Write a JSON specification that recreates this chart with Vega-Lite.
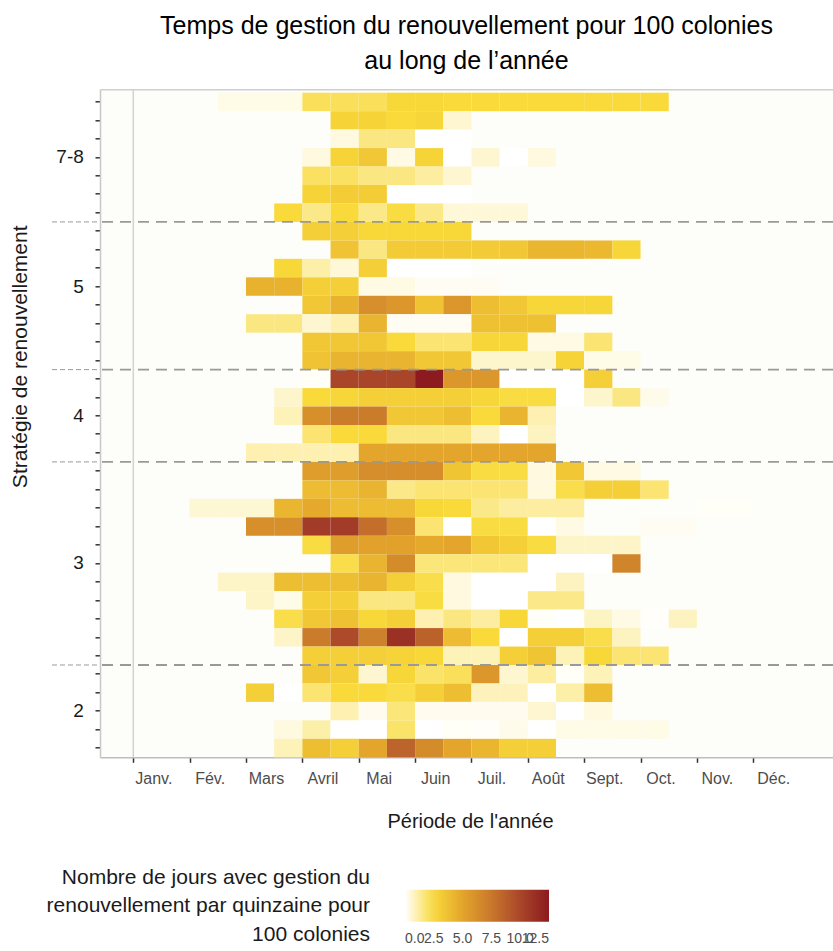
{
  "$schema": "https://vega.github.io/schema/vega-lite/v6.json",
  "width": 733,
  "height": 668,
  "autosize": {"type": "none"},
  "padding": {"left": 100, "top": 89.3, "right": 0, "bottom": 193.7},
  "background": "#FFFFFF",
  "title": {
    "text": ["Temps de gestion du renouvellement pour 100 colonies", "au long de l’année"],
    "orient": "top",
    "anchor": "middle",
    "frame": "group",
    "baseline": "alphabetic",
    "offset": -5,
    "lineHeight": 35,
    "fontSize": 25,
    "fontWeight": "normal",
    "color": "#000000"
  },
  "datasets": {
    "separations": [{"l": 8}, {"l": 16}, {"l": 21}, {"l": 32}],
    "cellules": [
      {"l":1,"q0":3,"q1":4,"v":0.3},{"l":1,"q0":4,"q1":5,"v":0.3},{"l":1,"q0":5,"q1":6,"v":0.3},{"l":1,"q0":6,"q1":7,"v":2.1},{"l":1,"q0":7,"q1":8,"v":2.1},{"l":1,"q0":8,"q1":9,"v":2.1},{"l":1,"q0":9,"q1":10,"v":2.6},{"l":1,"q0":10,"q1":11,"v":2.6},{"l":1,"q0":11,"q1":12,"v":2.5},{"l":1,"q0":12,"q1":13,"v":2.5},{"l":1,"q0":13,"q1":14,"v":2.5},{"l":1,"q0":14,"q1":15,"v":2.5},{"l":1,"q0":15,"q1":16,"v":2.5},{"l":1,"q0":16,"q1":17,"v":2.5},{"l":1,"q0":17,"q1":18,"v":2.5},{"l":1,"q0":18,"q1":19,"v":2.5},
      {"l":2,"q0":7,"q1":8,"v":2.8},{"l":2,"q0":8,"q1":9,"v":2.8},{"l":2,"q0":9,"q1":10,"v":2.5},{"l":2,"q0":10,"q1":11,"v":2.7},{"l":2,"q0":11,"q1":12,"v":0.6},
      {"l":3,"q0":7,"q1":8,"v":0.4},{"l":3,"q0":8,"q1":9,"v":1.6},{"l":3,"q0":9,"q1":10,"v":1.6},{"l":3,"q0":10,"q1":11,"v":0},{"l":3,"q0":11,"q1":12,"v":0},
      {"l":4,"q0":6,"q1":7,"v":0.4},{"l":4,"q0":7,"q1":8,"v":2.8},{"l":4,"q0":8,"q1":9,"v":3.4},{"l":4,"q0":9,"q1":10,"v":0.35},{"l":4,"q0":10,"q1":11,"v":2.8},{"l":4,"q0":11,"q1":12,"v":0},{"l":4,"q0":12,"q1":13,"v":0.6},{"l":4,"q0":13,"q1":14,"v":0},{"l":4,"q0":14,"q1":15,"v":0.4},
      {"l":5,"q0":6,"q1":7,"v":2.0},{"l":5,"q0":7,"q1":8,"v":2.0},{"l":5,"q0":8,"q1":9,"v":1.6},{"l":5,"q0":9,"q1":10,"v":1.6},{"l":5,"q0":10,"q1":11,"v":1.2},{"l":5,"q0":11,"q1":12,"v":0.6},
      {"l":6,"q0":6,"q1":7,"v":2.8},{"l":6,"q0":7,"q1":8,"v":3.1},{"l":6,"q0":8,"q1":9,"v":3.1},{"l":6,"q0":9,"q1":10,"v":0},{"l":6,"q0":10,"q1":11,"v":0},{"l":6,"q0":11,"q1":12,"v":0},
      {"l":7,"q0":5,"q1":6,"v":2.5},{"l":7,"q0":6,"q1":7,"v":1.5},{"l":7,"q0":7,"q1":8,"v":2.5},{"l":7,"q0":8,"q1":9,"v":1.5},{"l":7,"q0":9,"q1":10,"v":2.4},{"l":7,"q0":10,"q1":11,"v":1.5},{"l":7,"q0":11,"q1":12,"v":0.5},{"l":7,"q0":12,"q1":13,"v":0.5},{"l":7,"q0":13,"q1":14,"v":0.5},
      {"l":8,"q0":6,"q1":7,"v":3.0},{"l":8,"q0":7,"q1":8,"v":3.0},{"l":8,"q0":8,"q1":9,"v":2.6},{"l":8,"q0":9,"q1":10,"v":2.6},{"l":8,"q0":10,"q1":11,"v":2.6},{"l":8,"q0":11,"q1":12,"v":2.6},
      {"l":9,"q0":7,"q1":8,"v":3.6},{"l":9,"q0":8,"q1":9,"v":1.6},{"l":9,"q0":9,"q1":10,"v":3.2},{"l":9,"q0":10,"q1":11,"v":3.2},{"l":9,"q0":11,"q1":12,"v":3.2},{"l":9,"q0":12,"q1":13,"v":3.2},{"l":9,"q0":13,"q1":14,"v":3.4},{"l":9,"q0":14,"q1":15,"v":4.2},{"l":9,"q0":15,"q1":16,"v":4.2},{"l":9,"q0":16,"q1":17,"v":4.1},{"l":9,"q0":17,"q1":18,"v":2.7},
      {"l":10,"q0":5,"q1":6,"v":2.6},{"l":10,"q0":6,"q1":7,"v":1.1},{"l":10,"q0":7,"q1":8,"v":0.5},{"l":10,"q0":8,"q1":9,"v":3.0},{"l":10,"q0":9,"q1":10,"v":0},{"l":10,"q0":10,"q1":11,"v":0},{"l":10,"q0":11,"q1":12,"v":0},
      {"l":11,"q0":4,"q1":5,"v":4.4},{"l":11,"q0":5,"q1":6,"v":4.4},{"l":11,"q0":6,"q1":7,"v":3.0},{"l":11,"q0":7,"q1":8,"v":3.0},{"l":11,"q0":8,"q1":9,"v":0.35},{"l":11,"q0":9,"q1":10,"v":0.35},{"l":11,"q0":10,"q1":11,"v":0.15},{"l":11,"q0":11,"q1":12,"v":0.15},{"l":11,"q0":12,"q1":13,"v":0.15},
      {"l":12,"q0":6,"q1":7,"v":3.4},{"l":12,"q0":7,"q1":8,"v":4.4},{"l":12,"q0":8,"q1":9,"v":6.2},{"l":12,"q0":9,"q1":10,"v":5.8},{"l":12,"q0":10,"q1":11,"v":3.6},{"l":12,"q0":11,"q1":12,"v":5.8},{"l":12,"q0":12,"q1":13,"v":3.8},{"l":12,"q0":13,"q1":14,"v":3.4},{"l":12,"q0":14,"q1":15,"v":2.7},{"l":12,"q0":15,"q1":16,"v":2.7},{"l":12,"q0":16,"q1":17,"v":2.7},
      {"l":13,"q0":4,"q1":5,"v":1.6},{"l":13,"q0":5,"q1":6,"v":1.6},{"l":13,"q0":6,"q1":7,"v":0.6},{"l":13,"q0":7,"q1":8,"v":1.0},{"l":13,"q0":8,"q1":9,"v":4.3},{"l":13,"q0":9,"q1":10,"v":0.15},{"l":13,"q0":10,"q1":11,"v":0.15},{"l":13,"q0":11,"q1":12,"v":0.15},{"l":13,"q0":12,"q1":13,"v":3.7},{"l":13,"q0":13,"q1":14,"v":3.7},{"l":13,"q0":14,"q1":15,"v":3.7},
      {"l":14,"q0":6,"q1":7,"v":3.4},{"l":14,"q0":7,"q1":8,"v":3.4},{"l":14,"q0":8,"q1":9,"v":3.4},{"l":14,"q0":9,"q1":10,"v":2.5},{"l":14,"q0":10,"q1":11,"v":1.8},{"l":14,"q0":11,"q1":12,"v":1.8},{"l":14,"q0":12,"q1":13,"v":2.7},{"l":14,"q0":13,"q1":14,"v":2.7},{"l":14,"q0":14,"q1":15,"v":0.35},{"l":14,"q0":15,"q1":16,"v":0.35},{"l":14,"q0":16,"q1":17,"v":1.8},
      {"l":15,"q0":6,"q1":7,"v":3.6},{"l":15,"q0":7,"q1":8,"v":4.3},{"l":15,"q0":8,"q1":9,"v":4.3},{"l":15,"q0":9,"q1":10,"v":4.3},{"l":15,"q0":10,"q1":11,"v":3.4},{"l":15,"q0":11,"q1":12,"v":3.4},{"l":15,"q0":12,"q1":13,"v":0.65},{"l":15,"q0":13,"q1":14,"v":0.65},{"l":15,"q0":14,"q1":15,"v":0.65},{"l":15,"q0":15,"q1":16,"v":2.8},{"l":15,"q0":16,"q1":17,"v":0.3},{"l":15,"q0":17,"q1":18,"v":0.3},
      {"l":16,"q0":6,"q1":7,"v":0.1},{"l":16,"q0":7,"q1":8,"v":10},{"l":16,"q0":8,"q1":9,"v":10},{"l":16,"q0":9,"q1":10,"v":10},{"l":16,"q0":10,"q1":11,"v":12.5},{"l":16,"q0":11,"q1":12,"v":5.8},{"l":16,"q0":12,"q1":13,"v":5.8},{"l":16,"q0":13,"q1":14,"v":0},{"l":16,"q0":14,"q1":15,"v":0},{"l":16,"q0":15,"q1":16,"v":0},{"l":16,"q0":16,"q1":17,"v":3.0},
      {"l":17,"q0":5,"q1":6,"v":0.65},{"l":17,"q0":6,"q1":7,"v":2.5},{"l":17,"q0":7,"q1":8,"v":2.7},{"l":17,"q0":8,"q1":9,"v":3.0},{"l":17,"q0":9,"q1":10,"v":3.0},{"l":17,"q0":10,"q1":11,"v":3.0},{"l":17,"q0":11,"q1":12,"v":3.0},{"l":17,"q0":12,"q1":13,"v":2.7},{"l":17,"q0":13,"q1":14,"v":2.4},{"l":17,"q0":14,"q1":15,"v":2.4},{"l":17,"q0":15,"q1":16,"v":0},{"l":17,"q0":16,"q1":17,"v":0.65},{"l":17,"q0":17,"q1":18,"v":1.6},{"l":17,"q0":18,"q1":19,"v":0.25},
      {"l":18,"q0":5,"q1":6,"v":0.9},{"l":18,"q0":6,"q1":7,"v":6.2},{"l":18,"q0":7,"q1":8,"v":7.3},{"l":18,"q0":8,"q1":9,"v":7.3},{"l":18,"q0":9,"q1":10,"v":3.4},{"l":18,"q0":10,"q1":11,"v":3.4},{"l":18,"q0":11,"q1":12,"v":3.8},{"l":18,"q0":12,"q1":13,"v":2.5},{"l":18,"q0":13,"q1":14,"v":4.3},{"l":18,"q0":14,"q1":15,"v":1.0},
      {"l":19,"q0":6,"q1":7,"v":1.8},{"l":19,"q0":7,"q1":8,"v":2.5},{"l":19,"q0":8,"q1":9,"v":2.5},{"l":19,"q0":9,"q1":10,"v":1.6},{"l":19,"q0":10,"q1":11,"v":1.6},{"l":19,"q0":11,"q1":12,"v":1.6},{"l":19,"q0":12,"q1":13,"v":0.8},{"l":19,"q0":13,"q1":14,"v":0},{"l":19,"q0":14,"q1":15,"v":0.8},
      {"l":20,"q0":4,"q1":5,"v":1.0},{"l":20,"q0":5,"q1":6,"v":1.0},{"l":20,"q0":6,"q1":7,"v":1.0},{"l":20,"q0":7,"q1":8,"v":1.0},{"l":20,"q0":8,"q1":9,"v":5.0},{"l":20,"q0":9,"q1":10,"v":5.0},{"l":20,"q0":10,"q1":11,"v":5.0},{"l":20,"q0":11,"q1":12,"v":5.0},{"l":20,"q0":12,"q1":13,"v":5.0},{"l":20,"q0":13,"q1":14,"v":5.0},{"l":20,"q0":14,"q1":15,"v":5.0},
      {"l":21,"q0":6,"q1":7,"v":5.4},{"l":21,"q0":7,"q1":8,"v":5.4},{"l":21,"q0":8,"q1":9,"v":6.3},{"l":21,"q0":9,"q1":10,"v":6.3},{"l":21,"q0":10,"q1":11,"v":6.3},{"l":21,"q0":11,"q1":12,"v":3.5},{"l":21,"q0":12,"q1":13,"v":2.4},{"l":21,"q0":13,"q1":14,"v":2.4},{"l":21,"q0":14,"q1":15,"v":0.4},{"l":21,"q0":15,"q1":16,"v":3.4},{"l":21,"q0":16,"q1":17,"v":0.35},{"l":21,"q0":17,"q1":18,"v":0.35},
      {"l":22,"q0":6,"q1":7,"v":3.9},{"l":22,"q0":7,"q1":8,"v":3.9},{"l":22,"q0":8,"q1":9,"v":4.3},{"l":22,"q0":9,"q1":10,"v":1.5},{"l":22,"q0":10,"q1":11,"v":1.8},{"l":22,"q0":11,"q1":12,"v":1.8},{"l":22,"q0":12,"q1":13,"v":1.8},{"l":22,"q0":13,"q1":14,"v":1.8},{"l":22,"q0":14,"q1":15,"v":0.4},{"l":22,"q0":15,"q1":16,"v":2.3},{"l":22,"q0":16,"q1":17,"v":3.0},{"l":22,"q0":17,"q1":18,"v":3.0},{"l":22,"q0":18,"q1":19,"v":1.8},
      {"l":23,"q0":2,"q1":3,"v":0.55},{"l":23,"q0":3,"q1":4,"v":0.55},{"l":23,"q0":4,"q1":5,"v":0.55},{"l":23,"q0":5,"q1":6,"v":4.2},{"l":23,"q0":6,"q1":7,"v":4.8},{"l":23,"q0":7,"q1":8,"v":3.9},{"l":23,"q0":8,"q1":9,"v":3.9},{"l":23,"q0":9,"q1":10,"v":3.9},{"l":23,"q0":10,"q1":11,"v":2.6},{"l":23,"q0":11,"q1":12,"v":2.5},{"l":23,"q0":12,"q1":13,"v":1.5},{"l":23,"q0":13,"q1":14,"v":1.2},{"l":23,"q0":14,"q1":15,"v":1.2},{"l":23,"q0":15,"q1":16,"v":1.2},{"l":23,"q0":20,"q1":21,"v":0.1},{"l":23,"q0":21,"q1":22,"v":0.1},
      {"l":24,"q0":4,"q1":5,"v":6.2},{"l":24,"q0":5,"q1":6,"v":6.2},{"l":24,"q0":6,"q1":7,"v":10.6},{"l":24,"q0":7,"q1":8,"v":10.6},{"l":24,"q0":8,"q1":9,"v":8.0},{"l":24,"q0":9,"q1":10,"v":6.2},{"l":24,"q0":10,"q1":11,"v":1.8},{"l":24,"q0":11,"q1":12,"v":0},{"l":24,"q0":12,"q1":13,"v":2.4},{"l":24,"q0":13,"q1":14,"v":2.4},{"l":24,"q0":14,"q1":15,"v":0},{"l":24,"q0":15,"q1":16,"v":0.35},{"l":24,"q0":18,"q1":19,"v":0.15},{"l":24,"q0":19,"q1":20,"v":0.15},
      {"l":25,"q0":6,"q1":7,"v":2.4},{"l":25,"q0":7,"q1":8,"v":5.4},{"l":25,"q0":8,"q1":9,"v":5.2},{"l":25,"q0":9,"q1":10,"v":5.2},{"l":25,"q0":10,"q1":11,"v":4.8},{"l":25,"q0":11,"q1":12,"v":5.0},{"l":25,"q0":12,"q1":13,"v":3.4},{"l":25,"q0":13,"q1":14,"v":3.0},{"l":25,"q0":14,"q1":15,"v":2.4},{"l":25,"q0":15,"q1":16,"v":0.7},{"l":25,"q0":16,"q1":17,"v":0.7},{"l":25,"q0":17,"q1":18,"v":0.7},
      {"l":26,"q0":7,"q1":8,"v":2.3},{"l":26,"q0":8,"q1":9,"v":4.3},{"l":26,"q0":9,"q1":10,"v":6.4},{"l":26,"q0":10,"q1":11,"v":1.7},{"l":26,"q0":11,"q1":12,"v":1.7},{"l":26,"q0":12,"q1":13,"v":1.7},{"l":26,"q0":13,"q1":14,"v":1.7},{"l":26,"q0":14,"q1":15,"v":0},{"l":26,"q0":15,"q1":16,"v":0},{"l":26,"q0":16,"q1":17,"v":0},{"l":26,"q0":17,"q1":18,"v":6.8},
      {"l":27,"q0":3,"q1":4,"v":0.7},{"l":27,"q0":4,"q1":5,"v":0.7},{"l":27,"q0":5,"q1":6,"v":3.8},{"l":27,"q0":6,"q1":7,"v":3.8},{"l":27,"q0":7,"q1":8,"v":3.8},{"l":27,"q0":8,"q1":9,"v":4.3},{"l":27,"q0":9,"q1":10,"v":3.0},{"l":27,"q0":10,"q1":11,"v":2.3},{"l":27,"q0":11,"q1":12,"v":0.4},{"l":27,"q0":12,"q1":13,"v":0},{"l":27,"q0":13,"q1":14,"v":0},{"l":27,"q0":14,"q1":15,"v":0},{"l":27,"q0":15,"q1":16,"v":0.8},
      {"l":28,"q0":4,"q1":5,"v":0.7},{"l":28,"q0":5,"q1":6,"v":0.3},{"l":28,"q0":6,"q1":7,"v":3.0},{"l":28,"q0":7,"q1":8,"v":3.0},{"l":28,"q0":8,"q1":9,"v":1.6},{"l":28,"q0":9,"q1":10,"v":1.6},{"l":28,"q0":10,"q1":11,"v":2.4},{"l":28,"q0":11,"q1":12,"v":0.4},{"l":28,"q0":12,"q1":13,"v":0},{"l":28,"q0":13,"q1":14,"v":0},{"l":28,"q0":14,"q1":15,"v":1.5},{"l":28,"q0":15,"q1":16,"v":1.5},
      {"l":29,"q0":5,"q1":6,"v":2.3},{"l":29,"q0":6,"q1":7,"v":3.4},{"l":29,"q0":7,"q1":8,"v":3.7},{"l":29,"q0":8,"q1":9,"v":2.6},{"l":29,"q0":9,"q1":10,"v":3.0},{"l":29,"q0":10,"q1":11,"v":1.0},{"l":29,"q0":11,"q1":12,"v":1.6},{"l":29,"q0":12,"q1":13,"v":1.2},{"l":29,"q0":13,"q1":14,"v":2.6},{"l":29,"q0":14,"q1":15,"v":0.1},{"l":29,"q0":15,"q1":16,"v":0},{"l":29,"q0":16,"q1":17,"v":0.75},{"l":29,"q0":17,"q1":18,"v":0.35},{"l":29,"q0":18,"q1":19,"v":0.05},{"l":29,"q0":19,"q1":20,"v":0.8},
      {"l":30,"q0":5,"q1":6,"v":0.7},{"l":30,"q0":6,"q1":7,"v":7.3},{"l":30,"q0":7,"q1":8,"v":9.8},{"l":30,"q0":8,"q1":9,"v":7.0},{"l":30,"q0":9,"q1":10,"v":11.2},{"l":30,"q0":10,"q1":11,"v":8.6},{"l":30,"q0":11,"q1":12,"v":3.9},{"l":30,"q0":12,"q1":13,"v":2.5},{"l":30,"q0":13,"q1":14,"v":0},{"l":30,"q0":14,"q1":15,"v":3.0},{"l":30,"q0":15,"q1":16,"v":3.0},{"l":30,"q0":16,"q1":17,"v":2.3},{"l":30,"q0":17,"q1":18,"v":0.8},
      {"l":31,"q0":6,"q1":7,"v":3.0},{"l":31,"q0":7,"q1":8,"v":3.0},{"l":31,"q0":8,"q1":9,"v":3.0},{"l":31,"q0":9,"q1":10,"v":2.8},{"l":31,"q0":10,"q1":11,"v":2.6},{"l":31,"q0":11,"q1":12,"v":0.9},{"l":31,"q0":12,"q1":13,"v":0.9},{"l":31,"q0":13,"q1":14,"v":3.0},{"l":31,"q0":14,"q1":15,"v":3.5},{"l":31,"q0":15,"q1":16,"v":0.9},{"l":31,"q0":16,"q1":17,"v":2.6},{"l":31,"q0":17,"q1":18,"v":1.8},{"l":31,"q0":18,"q1":19,"v":1.8},
      {"l":32,"q0":6,"q1":7,"v":3.4},{"l":32,"q0":7,"q1":8,"v":3.0},{"l":32,"q0":8,"q1":9,"v":0.6},{"l":32,"q0":9,"q1":10,"v":2.7},{"l":32,"q0":10,"q1":11,"v":1.9},{"l":32,"q0":11,"q1":12,"v":2.1},{"l":32,"q0":12,"q1":13,"v":5.8},{"l":32,"q0":13,"q1":14,"v":0.6},{"l":32,"q0":14,"q1":15,"v":1.2},{"l":32,"q0":15,"q1":16,"v":0.1},{"l":32,"q0":16,"q1":17,"v":0.9},
      {"l":33,"q0":4,"q1":5,"v":3.0},{"l":33,"q0":5,"q1":6,"v":0},{"l":33,"q0":6,"q1":7,"v":1.8},{"l":33,"q0":7,"q1":8,"v":2.5},{"l":33,"q0":8,"q1":9,"v":2.5},{"l":33,"q0":9,"q1":10,"v":2.3},{"l":33,"q0":10,"q1":11,"v":3.0},{"l":33,"q0":11,"q1":12,"v":3.8},{"l":33,"q0":12,"q1":13,"v":0.85},{"l":33,"q0":13,"q1":14,"v":0.85},{"l":33,"q0":14,"q1":15,"v":0},{"l":33,"q0":15,"q1":16,"v":1.1},{"l":33,"q0":16,"q1":17,"v":3.8},
      {"l":34,"q0":7,"q1":8,"v":1.0},{"l":34,"q0":8,"q1":9,"v":0.2},{"l":34,"q0":9,"q1":10,"v":1.7},{"l":34,"q0":10,"q1":11,"v":0.2},{"l":34,"q0":11,"q1":12,"v":0.2},{"l":34,"q0":12,"q1":13,"v":0.2},{"l":34,"q0":13,"q1":14,"v":0.2},{"l":34,"q0":14,"q1":15,"v":0.6},{"l":34,"q0":15,"q1":16,"v":0},{"l":34,"q0":16,"q1":17,"v":0.4},
      {"l":35,"q0":5,"q1":6,"v":0.4},{"l":35,"q0":6,"q1":7,"v":1.1},{"l":35,"q0":7,"q1":8,"v":0},{"l":35,"q0":8,"q1":9,"v":0},{"l":35,"q0":9,"q1":10,"v":1.9},{"l":35,"q0":10,"q1":11,"v":0},{"l":35,"q0":11,"q1":12,"v":0.1},{"l":35,"q0":12,"q1":13,"v":0.08},{"l":35,"q0":13,"q1":14,"v":0.25},{"l":35,"q0":14,"q1":15,"v":0},{"l":35,"q0":15,"q1":16,"v":0.3},{"l":35,"q0":16,"q1":17,"v":0.3},{"l":35,"q0":17,"q1":18,"v":0.3},{"l":35,"q0":18,"q1":19,"v":0.3},
      {"l":36,"q0":5,"q1":6,"v":0.9},{"l":36,"q0":6,"q1":7,"v":3.8},{"l":36,"q0":7,"q1":8,"v":3.0},{"l":36,"q0":8,"q1":9,"v":5.0},{"l":36,"q0":9,"q1":10,"v":8.5},{"l":36,"q0":10,"q1":11,"v":6.4},{"l":36,"q0":11,"q1":12,"v":5.0},{"l":36,"q0":12,"q1":13,"v":4.2},{"l":36,"q0":13,"q1":14,"v":3.0},{"l":36,"q0":14,"q1":15,"v":3.0}
    ]
  },
  "layer": [
    {
      "data": {"name": "cellules"},
      "mark": {"type": "rect"},
      "encoding": {
        "x": {
          "field": "q0",
          "type": "quantitative",
          "scale": {"domain": [-1.182, 24.83], "nice": false, "zero": false},
          "axis": {
            "orient": "bottom",
            "values": [0, 2, 4, 6, 8, 10, 12, 14, 16, 18, 20, 22],
            "labelExpr": "['Janv.','Fév.','Mars','Avril','Mai','Juin','Juil.','Août','Sept.','Oct.','Nov.','Déc.'][datum.value / 2]",
            "labelOffset": 20,
            "labelFontSize": 16,
            "labelColor": "#4D4D4D",
            "labelPadding": 8,
            "tickColor": "#333333",
            "tickSize": 5,
            "tickWidth": 1.5,
            "domainColor": "#BEBEBE",
            "domainWidth": 1.5,
            "grid": false,
            "title": "Période de l'année",
            "titleFontSize": 20,
            "titleFontWeight": "normal",
            "titleColor": "#1A1A1A",
            "titleBaseline": "alphabetic",
            "titleX": 370,
            "titleY": 70
          }
        },
        "x2": {"field": "q1"},
        "y": {
          "field": "l",
          "type": "ordinal",
          "scale": {
            "domain": [1,2,3,4,5,6,7,8,9,10,11,12,13,14,15,16,17,18,19,20,21,22,23,24,25,26,27,28,29,30,31,32,33,34,35,36],
            "paddingInner": 0,
            "paddingOuter": 0.092,
            "align": 1
          },
          "axis": {
            "values": [1,2,3,4,5,6,7,8,9,10,11,12,13,14,15,16,17,18,19,20,21,22,23,24,25,26,27,28,29,30,31,32,33,34,35,36],
            "labelExpr": "datum.value == 4 ? '7-8' : datum.value == 11 ? '5' : datum.value == 18 ? '4' : datum.value == 26 ? '3' : datum.value == 34 ? '2' : ''",
            "labelFontSize": 19,
            "labelColor": "#1A1A1A",
            "labelPadding": 11.7,
            "tickColor": "#333333",
            "tickSize": 5,
            "tickWidth": 1.5,
            "domainColor": "#C8C8C8",
            "domainWidth": 1.5,
            "grid": false,
            "title": "Stratégie de renouvellement",
            "titleFontSize": 21,
            "titleFontWeight": "normal",
            "titleColor": "#1A1A1A",
            "titleAngle": 270,
            "titleAlign": "center",
            "titleBaseline": "alphabetic",
            "titleX": -74,
            "titleY": 267
          }
        },
        "color": {
          "field": "v",
          "type": "quantitative",
          "scale": {
            "domain": [0, 2.5, 5, 7.5, 10, 12.5],
            "range": ["#FFFFFF", "#F9DA3A", "#E3A52B", "#C9782B", "#A9462A", "#8C1A1E"],
            "interpolate": "rgb"
          },
          "legend": {
            "type": "gradient",
            "title": ["Nombre de jours avec gestion du", "renouvellement par quinzaine pour", "100 colonies"],
            "orient": "none",
            "legendX": -53,
            "legendY": 800.5,
            "direction": "horizontal",
            "gradientLength": 144,
            "gradientThickness": 32,
            "padding": 0,
            "titleOrient": "left",
            "titleAlign": "right",
            "titleAnchor": "middle",
            "titleBaseline": "middle",
            "titleFontSize": 21,
            "titleFontWeight": "normal",
            "titleColor": "#1A1A1A",
            "titleLineHeight": 28.5,
            "titlePadding": -289,
            "titleLimit": 600,
            "labelFontSize": 14,
            "labelColor": "#4D4D4D",
            "labelOverlap": false,
            "labelAlign": "center",
            "labelOffset": 10,
            "values": [0, 2.5, 5, 7.5, 10, 12.5],
            "format": ".1f"
          }
        }
      }
    },
    {
      "data": {"values": [{}]},
      "mark": {"type": "rule", "color": "#D2D2D2", "strokeWidth": 1.5},
      "encoding": {
        "x": {
          "datum": 0,
          "type": "quantitative",
          "axis": {"orient": "top", "labels": false, "ticks": false, "grid": false, "title": null, "domainColor": "#CFCFCF", "domainWidth": 1.5}
        }
      }
    },
    {
      "data": {"name": "separations"},
      "mark": {"type": "rule", "color": "#999999", "strokeWidth": 1.8, "strokeDash": [11, 7]},
      "encoding": {
        "y": {"field": "l", "type": "ordinal", "bandPosition": 0}
      }
    },
    {
      "data": {"name": "separations"},
      "mark": {"type": "rule", "color": "#9A9A9A", "strokeWidth": 1, "strokeDash": [5, 3]},
      "encoding": {
        "y": {"field": "l", "type": "ordinal", "bandPosition": 0},
        "x": {"datum": -2.885, "type": "quantitative", "axis": null},
        "x2": {"datum": -1.182}
      }
    }
  ],
  "config": {
    "font": "Liberation Sans",
    "view": {"fill": "#FDFDFA", "stroke": null}
  }
}
